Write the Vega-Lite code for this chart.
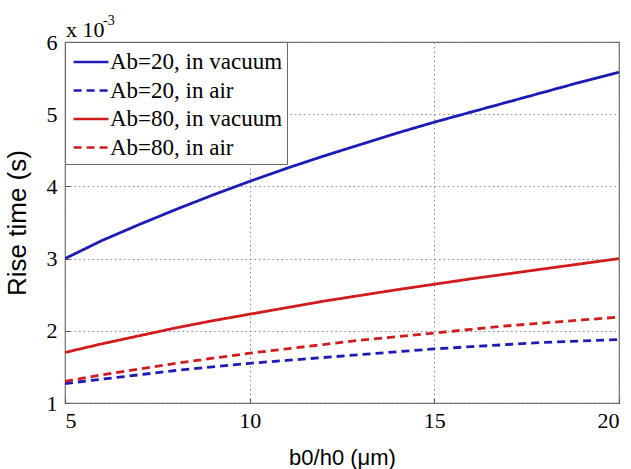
{
  "$schema": "https://vega.github.io/schema/vega-lite/v6.json",
  "autosize": "none",
  "width": 554,
  "height": 361,
  "padding": {"left": 65, "top": 42, "right": 12, "bottom": 66},
  "background": "white",
  "config": {
    "view": {"stroke": "#6a6a6a", "strokeWidth": 1.2},
    "axis": {
      "domain": false,
      "grid": true,
      "gridDash": [1.5, 3],
      "gridColor": "#8a8a8a",
      "gridWidth": 1,
      "ticks": true,
      "tickSize": -5,
      "tickColor": "#555",
      "labelFont": "Liberation Serif, Times New Roman, serif",
      "labelFontSize": 22,
      "labelColor": "black",
      "titleFont": "Liberation Sans, Arial, sans-serif",
      "titleFontWeight": "normal",
      "titleColor": "black"
    },
    "legend": {
      "orient": "none",
      "legendX": 0,
      "legendY": 0,
      "fillColor": "white",
      "strokeColor": "#6a6a6a",
      "padding": 4,
      "cornerRadius": 0,
      "labelFont": "Liberation Serif, Times New Roman, serif",
      "labelFontSize": 23,
      "labelColor": "black",
      "labelLimit": 300,
      "labelOffset": 3,
      "symbolType": "M-1.2,0H1.2",
      "symbolSize": 841,
      "symbolStrokeWidth": 2.5,
      "symbolOffset": 6,
      "rowPadding": 0.5
    }
  },
  "data": {
    "values": [
      {"x": 5, "y": 3.0, "series": "Ab=20, in vacuum"},
      {"x": 6, "y": 3.25, "series": "Ab=20, in vacuum"},
      {"x": 7, "y": 3.47, "series": "Ab=20, in vacuum"},
      {"x": 8, "y": 3.68, "series": "Ab=20, in vacuum"},
      {"x": 9, "y": 3.88, "series": "Ab=20, in vacuum"},
      {"x": 10, "y": 4.07, "series": "Ab=20, in vacuum"},
      {"x": 11, "y": 4.25, "series": "Ab=20, in vacuum"},
      {"x": 12, "y": 4.42, "series": "Ab=20, in vacuum"},
      {"x": 13, "y": 4.58, "series": "Ab=20, in vacuum"},
      {"x": 14, "y": 4.74, "series": "Ab=20, in vacuum"},
      {"x": 15, "y": 4.89, "series": "Ab=20, in vacuum"},
      {"x": 16, "y": 5.03, "series": "Ab=20, in vacuum"},
      {"x": 17, "y": 5.17, "series": "Ab=20, in vacuum"},
      {"x": 18, "y": 5.31, "series": "Ab=20, in vacuum"},
      {"x": 19, "y": 5.45, "series": "Ab=20, in vacuum"},
      {"x": 20, "y": 5.58, "series": "Ab=20, in vacuum"},
      {"x": 5, "y": 1.27, "series": "Ab=20, in air"},
      {"x": 6, "y": 1.33, "series": "Ab=20, in air"},
      {"x": 7, "y": 1.39, "series": "Ab=20, in air"},
      {"x": 8, "y": 1.45, "series": "Ab=20, in air"},
      {"x": 9, "y": 1.5, "series": "Ab=20, in air"},
      {"x": 10, "y": 1.55, "series": "Ab=20, in air"},
      {"x": 11, "y": 1.59, "series": "Ab=20, in air"},
      {"x": 12, "y": 1.63, "series": "Ab=20, in air"},
      {"x": 13, "y": 1.67, "series": "Ab=20, in air"},
      {"x": 14, "y": 1.71, "series": "Ab=20, in air"},
      {"x": 15, "y": 1.75, "series": "Ab=20, in air"},
      {"x": 16, "y": 1.78, "series": "Ab=20, in air"},
      {"x": 17, "y": 1.81, "series": "Ab=20, in air"},
      {"x": 18, "y": 1.84, "series": "Ab=20, in air"},
      {"x": 19, "y": 1.86, "series": "Ab=20, in air"},
      {"x": 20, "y": 1.88, "series": "Ab=20, in air"},
      {"x": 5, "y": 1.7, "series": "Ab=80, in vacuum"},
      {"x": 6, "y": 1.82, "series": "Ab=80, in vacuum"},
      {"x": 7, "y": 1.93, "series": "Ab=80, in vacuum"},
      {"x": 8, "y": 2.04, "series": "Ab=80, in vacuum"},
      {"x": 9, "y": 2.14, "series": "Ab=80, in vacuum"},
      {"x": 10, "y": 2.23, "series": "Ab=80, in vacuum"},
      {"x": 11, "y": 2.32, "series": "Ab=80, in vacuum"},
      {"x": 12, "y": 2.41, "series": "Ab=80, in vacuum"},
      {"x": 13, "y": 2.49, "series": "Ab=80, in vacuum"},
      {"x": 14, "y": 2.57, "series": "Ab=80, in vacuum"},
      {"x": 15, "y": 2.645, "series": "Ab=80, in vacuum"},
      {"x": 16, "y": 2.72, "series": "Ab=80, in vacuum"},
      {"x": 17, "y": 2.79, "series": "Ab=80, in vacuum"},
      {"x": 18, "y": 2.86, "series": "Ab=80, in vacuum"},
      {"x": 19, "y": 2.93, "series": "Ab=80, in vacuum"},
      {"x": 20, "y": 3.0, "series": "Ab=80, in vacuum"},
      {"x": 5, "y": 1.3, "series": "Ab=80, in air"},
      {"x": 6, "y": 1.39, "series": "Ab=80, in air"},
      {"x": 7, "y": 1.47, "series": "Ab=80, in air"},
      {"x": 8, "y": 1.55, "series": "Ab=80, in air"},
      {"x": 9, "y": 1.62, "series": "Ab=80, in air"},
      {"x": 10, "y": 1.69, "series": "Ab=80, in air"},
      {"x": 11, "y": 1.75, "series": "Ab=80, in air"},
      {"x": 12, "y": 1.81, "series": "Ab=80, in air"},
      {"x": 13, "y": 1.87, "series": "Ab=80, in air"},
      {"x": 14, "y": 1.92, "series": "Ab=80, in air"},
      {"x": 15, "y": 1.97, "series": "Ab=80, in air"},
      {"x": 16, "y": 2.02, "series": "Ab=80, in air"},
      {"x": 17, "y": 2.07, "series": "Ab=80, in air"},
      {"x": 18, "y": 2.11, "series": "Ab=80, in air"},
      {"x": 19, "y": 2.15, "series": "Ab=80, in air"},
      {"x": 20, "y": 2.19, "series": "Ab=80, in air"}
    ]
  },
  "layer": [
    {
      "mark": {"type": "line", "strokeWidth": 2.8, "clip": true},
      "encoding": {
        "x": {
          "field": "x", "type": "quantitative",
          "scale": {"domain": [5, 20], "nice": false, "zero": false},
          "axis": {"values": [5, 10, 15, 20], "format": "d", "title": "b0/h0 (μm)", "titleFontSize": 22, "labelPadding": 12, "titlePadding": 16}
        },
        "y": {
          "field": "y", "type": "quantitative",
          "scale": {"domain": [1, 6], "nice": false, "zero": false},
          "axis": {"values": [1, 2, 3, 4, 5, 6], "format": "d", "title": "Rise time (s)", "titleFontSize": 26, "labelPadding": 13, "titlePadding": 16}
        },
        "color": {
          "field": "series", "type": "nominal",
          "scale": {
            "domain": ["Ab=20, in vacuum", "Ab=20, in air", "Ab=80, in vacuum", "Ab=80, in air"],
            "range": ["#1c1cb4", "#1c1cb4", "#d01c1c", "#d01c1c"]
          },
          "legend": {"title": null}
        },
        "strokeDash": {
          "field": "series", "type": "nominal",
          "scale": {
            "domain": ["Ab=20, in vacuum", "Ab=20, in air", "Ab=80, in vacuum", "Ab=80, in air"],
            "range": [[1, 0], [8, 5], [1, 0], [8, 5]]
          },
          "legend": {"title": null}
        }
      }
    },
    {
      "data": {"values": [{"t": "x 10"}]},
      "mark": {"type": "text", "font": "Liberation Serif, Times New Roman, serif", "fontSize": 22, "align": "left", "baseline": "alphabetic", "dx": 1, "dy": -5, "color": "black"},
      "encoding": {"x": {"datum": 5}, "y": {"datum": 6}, "text": {"field": "t"}}
    },
    {
      "data": {"values": [{"t": "-3"}]},
      "mark": {"type": "text", "font": "Liberation Serif, Times New Roman, serif", "fontSize": 14, "align": "left", "baseline": "alphabetic", "dx": 38, "dy": -17, "color": "black"},
      "encoding": {"x": {"datum": 5}, "y": {"datum": 6}, "text": {"field": "t"}}
    }
  ]
}
